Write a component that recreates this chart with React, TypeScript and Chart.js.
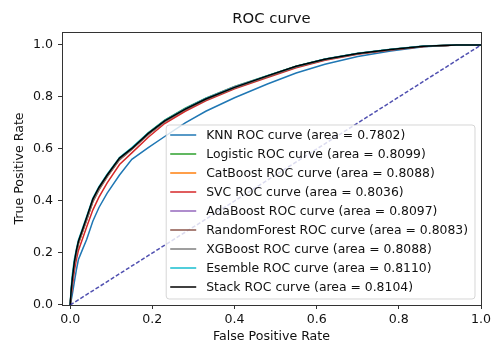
import { useEffect, useRef } from 'react';
import { Chart, registerables } from 'chart.js';

Chart.register(...registerables);

// ---- data ----
const fprGrid = [0, 0.002, 0.005, 0.01, 0.015, 0.02, 0.03, 0.04, 0.055, 0.07, 0.09, 0.12, 0.15, 0.19, 0.23, 0.28, 0.33, 0.4, 0.48, 0.55, 0.62, 0.7, 0.78, 0.86, 0.94, 1.0];

const knnTpr = [0, 0.015, 0.04, 0.088, 0.135, 0.175, 0.214, 0.252, 0.322, 0.375, 0.43, 0.5, 0.56, 0.605, 0.648, 0.7, 0.745, 0.797, 0.85, 0.892, 0.926, 0.956, 0.977, 0.993, 1.0, 1.0];
const logisticTpr = [0, 0.04, 0.09, 0.155, 0.2, 0.24, 0.287, 0.333, 0.403, 0.45, 0.5, 0.565, 0.603, 0.662, 0.711, 0.757, 0.795, 0.84, 0.882, 0.918, 0.945, 0.967, 0.983, 0.995, 1.0, 1.0];
const catboostTpr = [0, 0.04, 0.09, 0.15, 0.195, 0.235, 0.282, 0.328, 0.398, 0.445, 0.495, 0.56, 0.6, 0.658, 0.707, 0.753, 0.792, 0.837, 0.88, 0.917, 0.945, 0.967, 0.983, 0.995, 1.0, 1.0];
const svcTpr = [0, 0.03, 0.07, 0.13, 0.175, 0.21, 0.255, 0.3, 0.365, 0.415, 0.47, 0.54, 0.585, 0.645, 0.698, 0.745, 0.785, 0.831, 0.875, 0.912, 0.941, 0.964, 0.981, 0.994, 1.0, 1.0];
const adaboostTpr = [0, 0.045, 0.095, 0.16, 0.205, 0.242, 0.288, 0.334, 0.404, 0.45, 0.499, 0.564, 0.602, 0.66, 0.709, 0.755, 0.794, 0.839, 0.881, 0.917, 0.945, 0.967, 0.983, 0.995, 1.0, 1.0];
const randomForestTpr = [0, 0.05, 0.1, 0.16, 0.2, 0.238, 0.282, 0.326, 0.396, 0.443, 0.493, 0.558, 0.598, 0.655, 0.704, 0.75, 0.789, 0.834, 0.878, 0.915, 0.943, 0.966, 0.982, 0.994, 1.0, 1.0];
const xgboostTpr = [0, 0.045, 0.092, 0.155, 0.198, 0.237, 0.284, 0.33, 0.4, 0.447, 0.496, 0.561, 0.6, 0.657, 0.706, 0.752, 0.791, 0.836, 0.88, 0.917, 0.944, 0.966, 0.983, 0.995, 1.0, 1.0];
const esembleTpr = [0, 0.06, 0.115, 0.175, 0.215, 0.25, 0.295, 0.34, 0.41, 0.455, 0.503, 0.567, 0.605, 0.662, 0.71, 0.755, 0.794, 0.838, 0.882, 0.918, 0.946, 0.968, 0.984, 0.996, 1.0, 1.0];
const stackTpr = [0, 0.05, 0.1, 0.165, 0.21, 0.245, 0.29, 0.337, 0.407, 0.452, 0.5, 0.565, 0.602, 0.66, 0.708, 0.753, 0.792, 0.837, 0.881, 0.918, 0.945, 0.967, 0.983, 0.995, 1.0, 1.0];

const modelNames = ['KNN', 'Logistic', 'CatBoost', 'SVC', 'AdaBoost', 'RandomForest', 'XGBoost', 'Esemble', 'Stack'];
const modelAreas = [0.7802, 0.8099, 0.8088, 0.8036, 0.8097, 0.8083, 0.8088, 0.811, 0.8104];
const modelTprs = [knnTpr, logisticTpr, catboostTpr, svcTpr, adaboostTpr, randomForestTpr, xgboostTpr, esembleTpr, stackTpr];

const chanceX = [0, 1];
const chanceY = [0, 1];

const xTicks = [0, 0.2, 0.4, 0.6, 0.8, 1.0];
const yTicks = [0, 0.2, 0.4, 0.6, 0.8, 1.0];

// ---- styles ----
const modelColors = ['#1f77b4', '#2ca02c', '#ff7f0e', '#d62728', '#9467bd', '#8c564b', '#7f7f7f', '#17becf', '#000000'];
const FONT = "'DejaVu Sans', sans-serif";
const TEXT = '#111111';
const TICK_SIZE = 12.6;
const LEGEND_SIZE = 12.4;

const framePlugin = {
  id: 'mplFrame',
  afterDatasetsDraw(chart: any) {
    const { ctx, chartArea } = chart;
    ctx.save();
    ctx.strokeStyle = '#333333';
    ctx.lineWidth = 1;
    ctx.strokeRect(
      Math.round(chartArea.left) + 0.5,
      Math.round(chartArea.top) + 0.5,
      Math.round(chartArea.right) - Math.round(chartArea.left),
      Math.round(chartArea.bottom) - Math.round(chartArea.top)
    );
    ctx.restore();
  },
};

const legendPlugin = {
  id: 'mplLegend',
  afterDraw(chart: any) {
    const { ctx, chartArea } = chart;
    const rowH = 19;
    const labels = modelNames.map((n, i) => `${n} ROC curve (area = ${modelAreas[i].toFixed(4)})`);
    ctx.save();
    ctx.font = `${LEGEND_SIZE}px ${FONT}`;
    const maxW = Math.max(...labels.map((l) => ctx.measureText(l).width));
    const right = chartArea.right - 6;
    const bottom = chartArea.bottom - 6;
    const handleLen = 26;
    const padL = 4;
    const gap = 10;
    const padR = 7;
    const width = padL + handleLen + gap + maxW + padR;
    const height = labels.length * rowH + 3;
    const left = right - width;
    const top = bottom - height;
    const r = 3;
    ctx.beginPath();
    ctx.moveTo(left + r, top);
    ctx.lineTo(right - r, top);
    ctx.quadraticCurveTo(right, top, right, top + r);
    ctx.lineTo(right, bottom - r);
    ctx.quadraticCurveTo(right, bottom, right - r, bottom);
    ctx.lineTo(left + r, bottom);
    ctx.quadraticCurveTo(left, bottom, left, bottom - r);
    ctx.lineTo(left, top + r);
    ctx.quadraticCurveTo(left, top, left + r, top);
    ctx.closePath();
    ctx.fillStyle = 'rgba(255,255,255,0.8)';
    ctx.fill();
    ctx.strokeStyle = 'rgba(204,204,204,0.8)';
    ctx.lineWidth = 1;
    ctx.stroke();

    ctx.textBaseline = 'middle';
    ctx.textAlign = 'left';
    labels.forEach((label, i) => {
      const cy = top + 10 + i * rowH;
      ctx.strokeStyle = modelColors[i];
      ctx.lineWidth = 1.5;
      ctx.beginPath();
      ctx.moveTo(left + padL, cy);
      ctx.lineTo(left + padL + handleLen, cy);
      ctx.stroke();
      ctx.fillStyle = TEXT;
      ctx.fillText(label, left + padL + handleLen + gap, cy + 0.5);
    });
    ctx.restore();
  },
};

export default function App() {
  const canvasRef = useRef<HTMLCanvasElement | null>(null);

  useEffect(() => {
    document.body.style.margin = '0';
    const canvas = canvasRef.current;
    if (!canvas) return;

    const datasets: any[] = modelNames.map((name, i) => ({
      label: `${name} ROC curve (area = ${modelAreas[i].toFixed(4)})`,
      data: fprGrid.map((x, j) => ({ x, y: modelTprs[i][j] })),
      borderColor: modelColors[i],
      backgroundColor: modelColors[i],
      borderWidth: 1.5,
      pointRadius: 0,
      tension: 0,
      fill: false,
      order: modelNames.length - i,
    }));
    datasets.push({
      label: 'chance',
      data: chanceX.map((x, j) => ({ x, y: chanceY[j] })),
      borderColor: 'rgba(20,20,150,0.75)',
      borderWidth: 1.5,
      borderDash: [4, 2],
      pointRadius: 0,
      fill: false,
      order: 0,
    });

    const chart = new Chart(canvas, {
      type: 'line',
      data: { datasets },
      plugins: [framePlugin, legendPlugin],
      options: {
        animation: false,
        responsive: true,
        maintainAspectRatio: false,
        layout: { padding: { top: 0, right: 22, bottom: 0, left: 0 } },
        plugins: {
          legend: { display: false },
          tooltip: { enabled: false },
          title: {
            display: true,
            text: 'ROC curve',
            fullSize: false,
            color: TEXT,
            font: { family: FONT, size: 14.8, weight: 'normal' },
            padding: { top: 10.5, bottom: 3.7 },
          },
        },
        scales: {
          x: {
            type: 'linear',
            min: -0.02,
            max: 1.0,
            afterBuildTicks: (scale: any) => {
              scale.ticks = xTicks.map((v) => ({ value: v }));
            },
            afterFit: (scale: any) => {
              scale.height = 58;
            },
            ticks: {
              color: TEXT,
              font: { family: FONT, size: TICK_SIZE },
              padding: 3,
              maxRotation: 0,
              callback: (v: any) => Number(v).toFixed(1),
            },
            grid: { display: true, drawOnChartArea: false, drawTicks: true, tickLength: 4, color: '#333333', lineWidth: 1 },
            border: { display: false },
            title: {
              display: true,
              text: 'False Positive Rate',
              color: TEXT,
              font: { family: FONT, size: TICK_SIZE },
              padding: { top: 0, bottom: 18.7 },
            },
          },
          y: {
            type: 'linear',
            min: 0,
            max: 1.05,
            afterBuildTicks: (scale: any) => {
              scale.ticks = yTicks.map((v) => ({ value: v }));
            },
            afterFit: (scale: any) => {
              scale.width = 62;
            },
            ticks: {
              color: TEXT,
              font: { family: FONT, size: TICK_SIZE },
              padding: 5,
              callback: (v: any) => Number(v).toFixed(1),
            },
            grid: { display: true, drawOnChartArea: false, drawTicks: true, tickLength: 4, color: '#333333', lineWidth: 1 },
            border: { display: false },
            title: {
              display: true,
              text: 'True Positive Rate',
              color: TEXT,
              font: { family: FONT, size: TICK_SIZE },
              padding: { top: 12.4, bottom: 0 },
            },
          },
        },
      } as any,
    });

    return () => chart.destroy();
  }, []);

  return (
    <div style={{ position: 'absolute', left: 0, top: 0, width: 503, height: 363, background: '#ffffff' }}>
      <canvas ref={canvasRef} />
    </div>
  );
}
